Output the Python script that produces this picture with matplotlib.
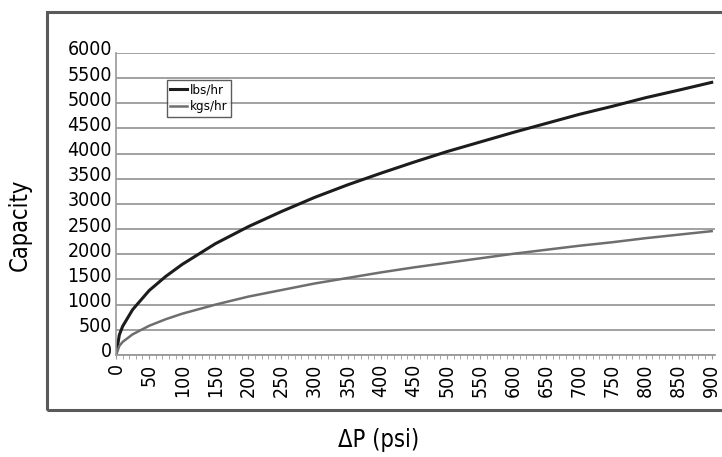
import matplotlib
matplotlib.use("Agg")
from matplotlib import pyplot as plt
from matplotlib.patches import Rectangle
from matplotlib.ticker import MultipleLocator
from matplotlib.transforms import ScaledTranslation

# Capacity vs. differential pressure
dp_psi = [0, 5, 10, 25, 50, 75, 100, 150, 200, 250, 300, 350, 400, 450,
          500, 550, 600, 650, 700, 750, 800, 850, 900]
lbs_hr = [0, 400, 570, 900, 1280, 1560, 1800, 2210, 2550, 2850, 3130, 3380,
          3610, 3830, 4040, 4230, 4420, 4600, 4780, 4940, 5110, 5260, 5415]
kgs_hr = [0, 180, 260, 410, 580, 710, 820, 1000, 1160, 1290, 1420, 1530,
          1640, 1740, 1830, 1920, 2010, 2090, 2170, 2240, 2320, 2390, 2460]
x_ticks = list(range(0, 901, 50))
y_ticks = list(range(0, 6001, 500))

# narrow lettering as in the original
plt.rcParams['font.family'] = ['DejaVu Sans']
plt.rcParams['font.stretch'] = 'condensed'

fig = plt.figure(figsize=(7.22, 4.57), dpi=100)
ax = fig.add_axes([0.1607, 0.2232, 0.8296, 0.661])

# outer chart frame (runs off the right edge of the picture)
fig.patches.append(Rectangle((0.065, 0.1028), 1.0, 0.8709, transform=fig.transFigure,
                             fill=False, edgecolor='#5a5a5a', linewidth=2.2,
                             clip_on=False))

ax.plot(dp_psi, lbs_hr, color='#1c1c1c', linewidth=2.2, label='lbs/hr')
ax.plot(dp_psi, kgs_hr, color='#6e6e6e', linewidth=1.8, label='kgs/hr')

ax.set_xlim(0, 905)
ax.set_ylim(0, 6000)
ax.set_xticks(x_ticks)
ax.set_yticks(y_ticks)
ax.xaxis.set_minor_locator(MultipleLocator(10))
ax.tick_params(axis='x', which='major', labelsize=14, labelrotation=90,
               length=3, color='#999999', pad=3)
ax.tick_params(axis='x', which='minor', length=3, color='#999999')
ax.tick_params(axis='y', labelsize=14, length=0, pad=3)

# y labels sit a little above their grid lines in the original
shift = ScaledTranslation(0, 5 / 100, fig.dpi_scale_trans)
for lab in ax.get_yticklabels():
    lab.set_transform(lab.get_transform() + shift)

ax.grid(axis='y', color='#9a9a9a', linewidth=1.3)
ax.set_axisbelow(True)
for side in ['top', 'right']:
    ax.spines[side].set_visible(False)
ax.spines['left'].set_color('#9a9a9a')
ax.spines['bottom'].set_color('#9a9a9a')
ax.spines['left'].set_linewidth(1.2)
ax.spines['bottom'].set_linewidth(1.3)

leg = ax.legend(loc='upper left', bbox_to_anchor=(0.085, 0.91), fontsize=9.5,
                frameon=True, fancybox=False, edgecolor='#333333',
                handlelength=1.3, handletextpad=0.2, borderpad=0.25,
                labelspacing=0.3, borderaxespad=0)
leg.get_frame().set_linewidth(1.0)

fig.text(0.028, 0.508, 'Capacity', rotation=90, fontsize=17,
         ha='center', va='center')
fig.text(0.524, 0.037, 'ΔP (psi)', fontsize=17, ha='center', va='center')

fig.savefig('out.png', dpi=100, facecolor='white')
